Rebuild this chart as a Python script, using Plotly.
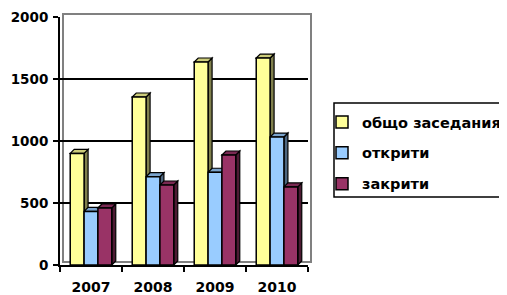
import plotly.graph_objects as go

years = ["2007", "2008", "2009", "2010"]
series_names = ["общо заседания", "открити", "закрити"]
total = [900, 1355, 1637, 1669]
opened = [432, 712, 748, 1032]
closed = [460, 645, 887, 630]
y_ticks = [0, 500, 1000, 1500, 2000]

front_colors = ["#FFFF99", "#99CCFF", "#993366"]
top_colors = ["#CCCC7A", "#7AA3CC", "#7A2952"]
side_colors = ["#80804D", "#4D6680", "#4D1A33"]

# the page body adds an 8px offset, so the figure is sized to the visible area
W, H = 499, 287
ML, MR, MT, MB = 52, 199, 9, 30
plot_w = W - ML - MR
plot_h = H - MT - MB

fig = go.Figure()
series = [total, opened, closed]
for idx, (name, vals, col) in enumerate(zip(series_names, series, front_colors)):
    fig.add_trace(go.Bar(
        x=years, y=vals, name=name, legendgroup=f"g{idx}",
        marker=dict(color=col, line=dict(color="black", width=1.5)),
    ))

bargap = 0.33
bw = (1 - bargap) / 3
dx = 4 / plot_w * len(years)          # depth in category units
dy = 4 / plot_h * 2000                 # depth in value units

shapes = []
# back wall box (gray), offset like the 3D back plane
shapes.append(dict(type="rect", xref="paper", yref="paper",
                   xsizemode="pixel", ysizemode="pixel",
                   xanchor=0, yanchor=0, x0=3, x1=plot_w + 3, y0=3, y1=plot_h + 3,
                   line=dict(color="#808080", width=2), layer="below"))
for k, vals in enumerate(series):
    for i, v in enumerate(vals):
        x0 = i - (1 - bargap) / 2 + k * bw
        x1 = x0 + bw
        side = f"M {x1},0 L {x1+dx},{dy} L {x1+dx},{v+dy} L {x1},{v} Z"
        top = f"M {x0},{v} L {x0+dx},{v+dy} L {x1+dx},{v+dy} L {x1},{v} Z"
        shapes.append(dict(type="path", xref="x", yref="y", path=side,
                           fillcolor=side_colors[k], line=dict(color="black", width=1.2),
                           layer="between"))
        shapes.append(dict(type="path", xref="x", yref="y", path=top,
                           fillcolor=top_colors[k], line=dict(color="black", width=1.2),
                           layer="between"))
# legend border
shapes.append(dict(type="rect", xref="paper", yref="paper",
                   x0=(326 - ML) / plot_w, x1=(510 - ML) / plot_w,
                   y0=(H - MB - 189) / plot_h, y1=(H - MB - 95) / plot_h,
                   line=dict(color="black", width=1.5)))

fig.update_layout(
    width=W, height=H,
    margin=dict(l=ML, r=MR, t=MT, b=MB, pad=0, autoexpand=False),
    paper_bgcolor="white", plot_bgcolor="white",
    barmode="group", bargap=bargap, bargroupgap=0,
    font=dict(family="DejaVu Sans", size=14, color="black"),
    showlegend=True,
    legend=dict(x=(314 - ML) / plot_w, y=(H - MB - 98) / plot_h,
                xanchor="left", yanchor="top",
                font=dict(family="DejaVu Sans", size=14.5, color="black", weight=700),
                bgcolor="rgba(0,0,0,0)", borderwidth=0,
                traceorder="grouped", tracegroupgap=9),
    shapes=shapes,
)

fig.update_xaxes(type="category", showline=True, linecolor="black", linewidth=2,
                 ticks="outside", tickson="boundaries", ticklen=5, tickwidth=2,
                 tickcolor="black", showgrid=False, zeroline=False, automargin=False,
                 tickfont=dict(family="DejaVu Sans", size=14, weight=700),
                 ticklabelstandoff=8, range=[-0.5, 3.5])
fig.update_yaxes(range=[0, 2000], tickvals=y_ticks, showline=True, linecolor="black",
                 linewidth=2, ticks="outside", ticklen=5, tickwidth=2, tickcolor="black",
                 showgrid=True, gridcolor="black", gridwidth=1.5, zeroline=False,
                 automargin=False,
                 tickfont=dict(family="DejaVu Sans", size=13.5, weight=700),
                 ticklabelstandoff=2)

fig.write_html("out.html")
